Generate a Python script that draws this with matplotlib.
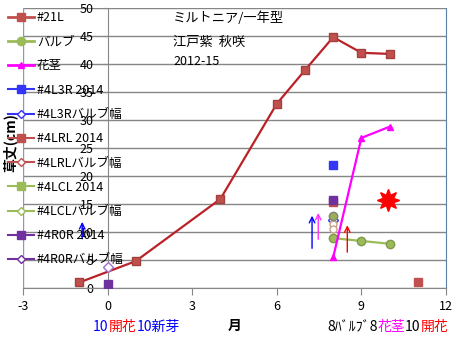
import numpy as np
import matplotlib.pyplot as plt
from matplotlib.lines import Line2D

plt.rcParams['font.family'] = ['Noto Sans CJK JP', 'DejaVu Sans']
plt.rcParams['axes.unicode_minus'] = False

# 2012-15 の生育データ
month_21l = [-1, 1, 4, 6, 7, 8, 9, 10]
height_21l = [1, 4.8, 15.9, 32.9, 38.9, 44.8, 42, 41.8]

month_bulb = [8, 9, 10]
bulb = [8.9, 8.4, 7.9]

month_stem = [8, 9, 10]
stem = [5.5, 26.8, 28.8]

# 2014 の各株
l3r_x, l3r_y = [8], [21.9]
l3r_w_x, l3r_w_y = [8], [12.1]
lrl_x, lrl_y = [8, 11], [15.3, 1]
lrl_w_x, lrl_w_y = [8], [11.4]
lcl_x, lcl_y = [8], [12.9]
lcl_w_x, lcl_w_y = [8], [10.5]
r0r_x, r0r_y = [0, 8], [0.8, 15.7]
r0r_w_x, r0r_w_y = [0], [3.7]

# 開花
bloom_x, bloom_y = [9.93], [15.8]

# 矢印 (x, 下, 上, 色)
arrows = [(-0.9, 8.3, 12.3, 'blue'),
          (7.25, 6.6, 13.4, 'blue'),
          (7.47, 8.2, 13.9, '#FF33FF'),
          (8.5, 5.9, 11.7, 'red')]

fig = plt.figure(figsize=(4.62, 3.41), dpi=100)
ax = fig.add_axes([23/462, 53/341, 423/462, 280/341])

c21 = '#C0504D'
cgreen = '#9BBB59'
cblue = '#3535F5'
cpurple = '#7030A0'

ax.plot(month_21l, height_21l, '-', color='#BA2228', lw=1.6, zorder=3)
ax.plot(month_21l, height_21l, 's', color=c21, mec='#A33F3C', ms=6, zorder=4)
ax.plot(month_bulb, bulb, '-o', color=cgreen, mec='#7F9A48', lw=1.6, ms=6, zorder=4)
ax.plot(month_stem, stem, '-^', color='#FF00FF', lw=1.6, ms=5, zorder=4)

ax.plot(l3r_x, l3r_y, 's', color=cblue, ms=6, zorder=4)
ax.plot(l3r_w_x, l3r_w_y, 'D', mfc='white', mec=cblue, ms=5, zorder=4)
ax.plot(lrl_x, lrl_y, 's', color=c21, ms=6, zorder=4)
ax.plot(lrl_w_x, lrl_w_y, 'o', mfc='white', mec='#C8A088', ms=5, zorder=4)
ax.plot(lcl_x, lcl_y, 'o', color='#9BAF59', mec='#808080', ms=6, zorder=4)
ax.plot(lcl_w_x, lcl_w_y, 'o', mfc='white', mec='#C8A088', ms=5, zorder=4)
ax.plot(r0r_x, r0r_y, 's', color=cpurple, ms=6, zorder=5)
ax.plot(r0r_w_x, r0r_w_y, 'D', mfc='white', mec='#A070D0', ms=5, zorder=4)

ax.plot(bloom_x, bloom_y, marker=(8, 1, 0), color='red', ms=16, ls='none', zorder=5)

for x, y0, y1, c in arrows:
    ax.annotate('', xy=(x, y1), xytext=(x, y0),
                arrowprops=dict(arrowstyle='->', color=c, lw=1.0), zorder=5)

ax.set_xlim(-3, 12)
ax.set_ylim(0, 50)
ax.set_xticks(np.arange(-3, 13, 3))
ax.set_yticks(np.arange(0, 51, 5))
ax.yaxis.grid(True, color='#868686', lw=1)
ax.set_axisbelow(True)

ax.spines['left'].set_position(('data', 0))
ax.spines['left'].set_color('#868686')
ax.spines['bottom'].set_color('#868686')
ax.spines['top'].set_visible(False)
ax.spines['right'].set_color('#5B7FA8')
ax.axvline(-3, color='#8A9AB0', lw=1)
ax.tick_params(axis='both', labelsize=9, color='#868686')
ax.tick_params(axis='y', length=4, pad=6)
ax.tick_params(axis='x', length=5, pad=4)

ax.set_ylabel('草丈(cm)', fontsize=10, fontweight='bold')
ax.yaxis.set_label_coords((17 - 23) / 423, 0.52, transform=ax.transAxes)
ax.set_xlabel('月', fontsize=10, fontweight='bold', labelpad=4)

ax.text(2.32, 48.1, 'ミルトニア/一年型', fontsize=9.5, va='center')
ax.text(2.32, 43.8, '江戸紫  秋咲', fontsize=9.5, va='center')
ax.text(2.32, 40.5, '2012-15', fontsize=9, va='center')

labels = ['#21L', 'バルブ', '花茎', '#4L3R 2014', '#4L3Rバルブ幅', '#4LRL 2014',
          '#4LRLバルブ幅', '#4LCL 2014', '#4LCLバルブ幅', '#4R0R 2014', '#4R0Rバルブ幅']
handles = [
    Line2D([], [], color=c21, lw=2, marker='s', ms=6),
    Line2D([], [], color=cgreen, lw=2, marker='o', ms=6),
    Line2D([], [], color='#FF00FF', lw=2, marker='^', ms=5),
    Line2D([], [], color=cblue, lw=1.5, marker='s', ms=6),
    Line2D([], [], color=cblue, lw=1.5, marker='D', mfc='white', ms=4),
    Line2D([], [], color=c21, lw=1.5, marker='s', ms=6),
    Line2D([], [], color=c21, lw=1.5, marker='D', mfc='white', ms=4),
    Line2D([], [], color=cgreen, lw=1.5, marker='s', ms=6),
    Line2D([], [], color=cgreen, lw=1.5, marker='D', mfc='white', ms=4),
    Line2D([], [], color=cpurple, lw=1.5, marker='s', ms=6),
    Line2D([], [], color=cpurple, lw=1.5, marker='D', mfc='white', ms=4),
]
fig.legend(handles, labels, loc='upper left', bbox_to_anchor=(8/462, 1 - 11/341),
           frameon=False, fontsize=9, handlelength=2.1, handletextpad=0.2,
           labelspacing=0.9, borderpad=0, borderaxespad=0)


def color_text(x, y, parts, size=10):
    r = fig.canvas.get_renderer()
    for s, c in parts:
        t = fig.text(x, y, s, color=c, fontsize=size, va='center')
        x += t.get_window_extent(r).width / fig.bbox.width


color_text(93/462, 1 - 327/341, [('10', 'blue'), ('開花', 'red'), ('10新芽', 'blue')])
color_text(327/462, 1 - 327/341, [('8ﾊﾞﾙﾌﾞ8', 'black'), ('花茎', '#FF00FF'),
                                    ('10', 'black'), ('開花', 'red')])

plt.savefig('out.png', dpi=100)
